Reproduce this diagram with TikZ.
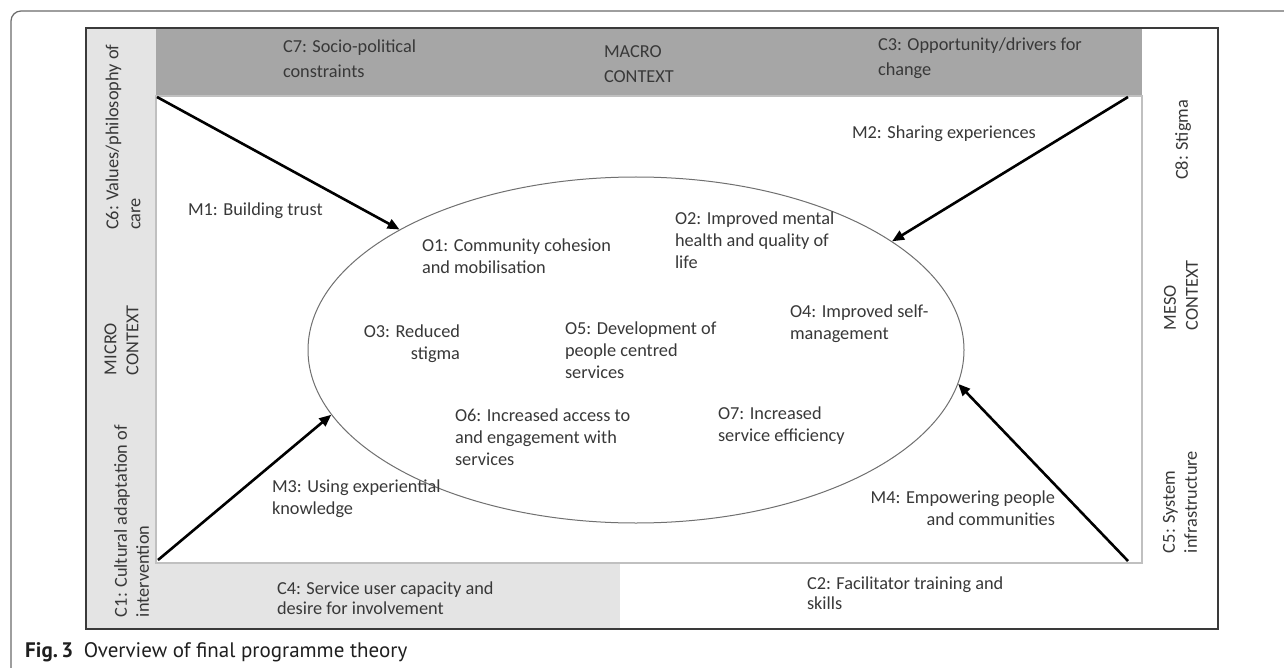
\documentclass[tikz,border=0pt]{standalone}
\usepackage{fontspec}
\setmainfont{Carlito}
\newfontfamily\capfont{PT Sans}
\usetikzlibrary{shapes.geometric,arrows.meta}
\definecolor{txt}{HTML}{383838}
\definecolor{lightband}{HTML}{E4E4E4}
\definecolor{darkband}{HTML}{A6A6A6}
\definecolor{ellgray}{HTML}{707070}
\definecolor{innerline}{HTML}{C0C0C0}
\definecolor{outerline}{HTML}{3A3A3A}
\definecolor{framegray}{HTML}{6A6A6A}
\begin{document}
\begin{tikzpicture}[x=1pt,y=-1pt,
  lbl/.style={inner sep=0pt, outer sep=0pt, text=txt, font=\fontsize{18.3}{22}\selectfont, align=left},
  toplbl/.style={lbl, font=\fontsize{18.3}{25}\selectfont},
  botlbl/.style={lbl, font=\fontsize{18.3}{19.5}\selectfont},
  sidelbl/.style={lbl, rotate=90, anchor=west},
  mech/.style={line width=2.6pt, draw=black, -{Triangle[length=12pt,width=10pt]}},
]
\useasboundingbox (0,0) rectangle (1284,668);
\fill[white] (0,0) rectangle (1284,668);
% page frame
\draw[framegray, line width=1.2pt, rounded corners=10pt] (11,670) -- (11,11) -- (1286,11);
% context bands
\fill[lightband] (86,28) rectangle (156,629);
\fill[lightband] (156,563) rectangle (620,629);
\fill[darkband] (156,28) rectangle (1142,96);
\draw[innerline, line width=1.4pt] (156,96) rectangle (1142,563);
\draw[outerline, line width=2pt] (86,28) rectangle (1218,629);

% band labels
\node[toplbl, anchor=west] (c7) at (283,59) {C7: Socio-political\\constraints};
\node[toplbl, anchor=west] (macro) at (604,64) {MACRO\\CONTEXT};
\node[toplbl, anchor=west] (c3) at (878,58) {C3: Opportunity/drivers for\\change};
\node[botlbl, anchor=west] (c4) at (277,598) {C4: Service user capacity and\\desire for involvement};
\node[botlbl, anchor=west] (c2) at (807,593) {C2: Facilitator training and\\skills};
\node[sidelbl] (c6) at (123,230) {C6: Values/philosophy of\\care};
\node[sidelbl] (micro) at (121.5,375) {MICRO\\CONTEXT};
\node[sidelbl] (c1) at (131.5,617) {C1: Cultural adaptation of\\intervention};
\node[sidelbl] (c8) at (1183,180) {C8: Stigma};
\node[sidelbl] (meso) at (1181,330) {MESO\\CONTEXT};
\node[sidelbl] (c5) at (1180,553) {C5: System\\infrastructure};

% outcomes ellipse
\node[ellipse, draw=ellgray, line width=1pt, minimum width=656pt, minimum height=346pt, inner sep=0pt] (ell) at (636,350) {};
\node[lbl, anchor=west] (o1) at (422,256) {O1: Community cohesion\\and mobilisation};
\node[lbl, anchor=west] (o2) at (675,240) {O2: Improved mental\\health and quality of\\life};
\node[lbl, anchor=east, align=right] (o3) at (460,344) {O3: Reduced\\stigma};
\node[lbl, anchor=west] (o4) at (790,323.5) {O4: Improved self-\\management};
\node[lbl, anchor=west] (o5) at (565,350) {O5: Development of\\people centred\\services};
\node[lbl, anchor=west] (o6) at (455,437) {O6: Increased access to\\and engagement with\\services};
\node[lbl, anchor=west] (o7) at (718,426) {O7: Increased\\service efficiency};

% mechanisms
\coordinate (m1s) at (157,97);
\coordinate (m2s) at (1128,97);
\coordinate (m3s) at (158,560);
\coordinate (m4s) at (1128,561);
\draw[mech] (m1s) -- (ell.153);
\draw[mech] (m2s) -- (ell.23);
\draw[mech] (m3s) -- (ell.192);
\draw[mech] (m4s) -- (ell.-6);
\node[lbl, anchor=west] (m1) at (188,211) {M1: Building trust};
\node[lbl, anchor=west] (m2) at (852,134) {M2: Sharing experiences};
\node[lbl, anchor=west] (m3) at (272,498.5) {M3: Using experiential\\knowledge};
\node[lbl, anchor=east, align=right] (m4) at (1055,508) {M4: Empowering people\\and communities};

% caption
\node[anchor=west, inner sep=0pt, text=black!88, font=\capfont\fontsize{21}{24}\selectfont] (cap) at (25,652) {\textbf{Fig.\,3}\hspace{0.5em}Overview of final programme theory};
\end{tikzpicture}
\end{document}
